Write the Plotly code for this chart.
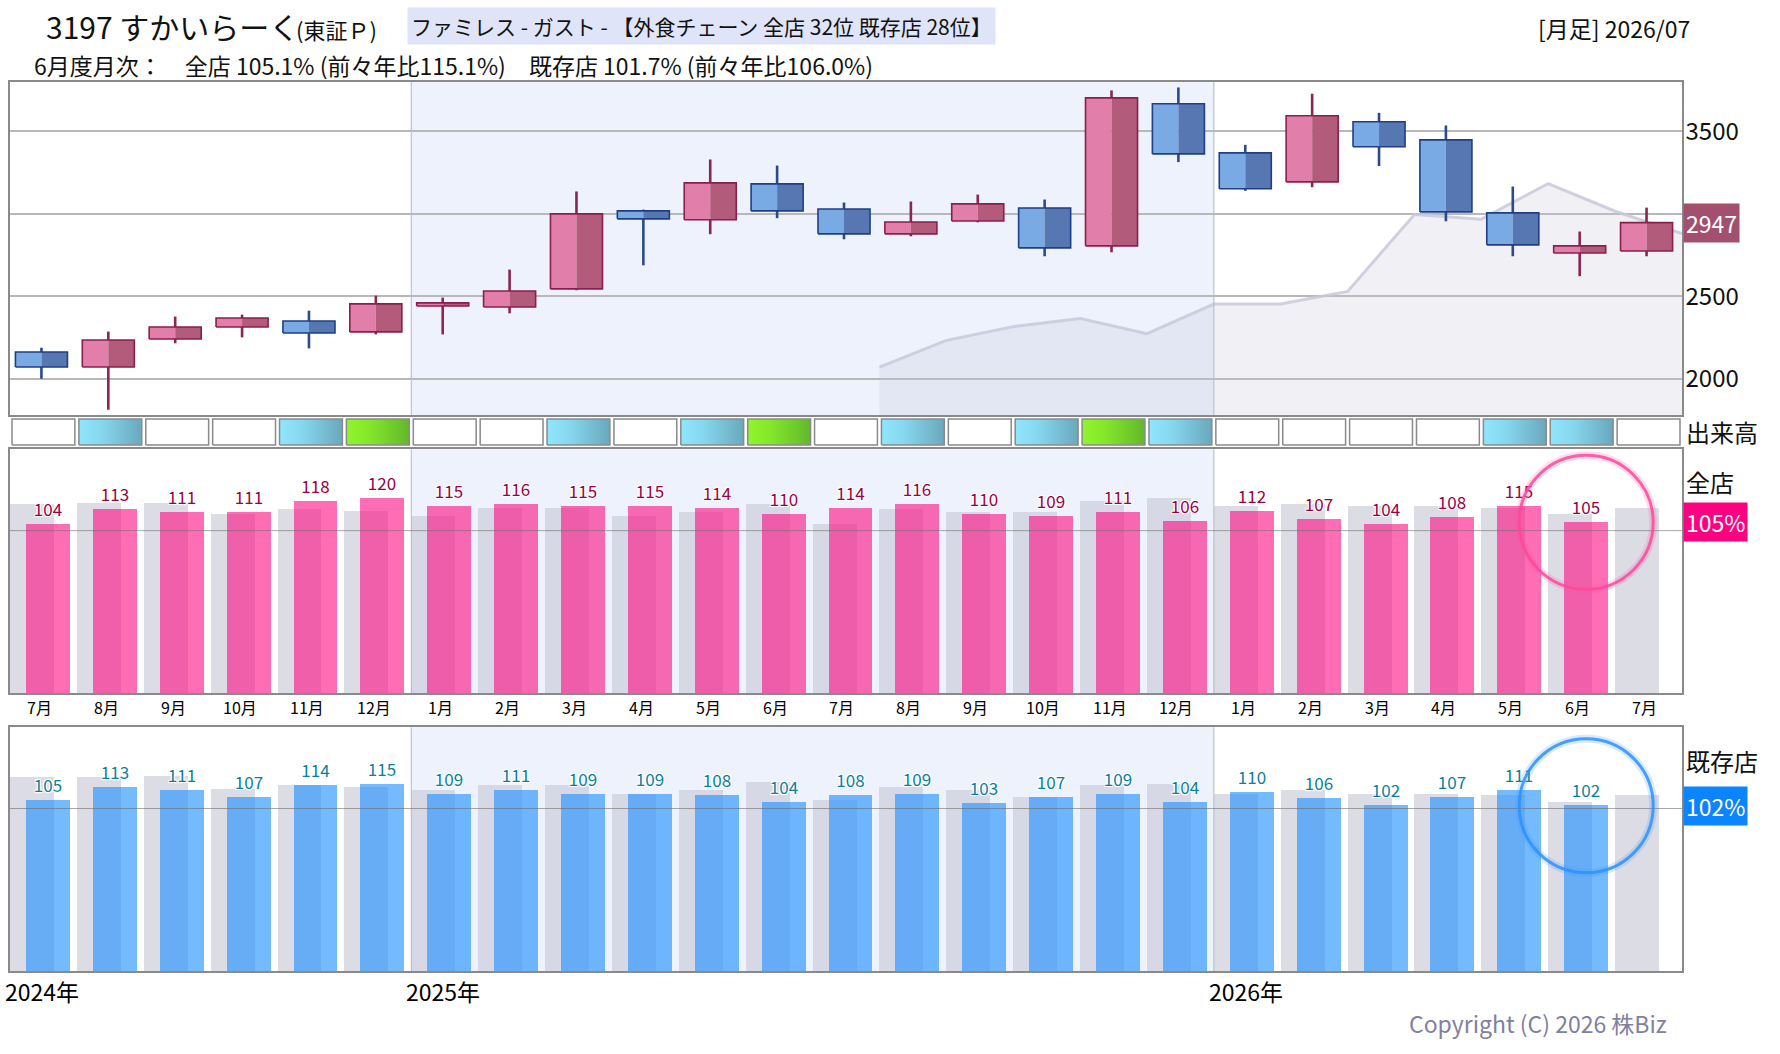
import plotly.graph_objects as go

# ---------------- data ----------------
months = ["7月", "8月", "9月", "10月", "11月", "12月", "1月", "2月", "3月", "4月", "5月", "6月",
          "7月", "8月", "9月", "10月", "11月", "12月", "1月", "2月", "3月", "4月", "5月", "6月", "7月"]
open_p = [2162, 2071, 2241, 2314, 2350, 2284, 2441, 2435, 2545, 3018, 2964, 3182,
          3030, 2879, 2957, 3036, 2806, 3668, 3370, 3194, 3559, 3449, 3006, 2763, 2775]
high_p = [2188, 2286, 2377, 2389, 2413, 2504, 2492, 2662, 3136, 3026, 3330, 3293,
          3069, 3075, 3117, 3087, 3749, 3767, 3419, 3729, 3613, 3536, 3166, 2893, 3038]
low_p = [2000, 1812, 2215, 2251, 2184, 2269, 2269, 2397, 2537, 2688, 2877, 2974,
         2846, 2864, 2949, 2743, 2767, 3314, 3140, 3162, 3290, 2955, 2743, 2622, 2743]
close_p = [2071, 2235, 2314, 2368, 2277, 2454, 2460, 2532, 3000, 2970, 3188, 3018,
           2879, 2951, 3061, 2794, 3704, 3364, 3152, 3595, 3407, 3012, 2812, 2806, 2947]
# gray reference line (plotted at month boundaries, from boundary 13 to 25)
ref_line_start = 13
ref_line = [2071, 2233, 2316, 2366, 2273, 2453, 2453, 2530, 2996, 2968, 3184, 3016, 2881]

# 出来高 strip level per month
vol_level = ["none", "mid", "none", "none", "mid", "high", "none", "none", "mid", "none", "mid", "high",
             "none", "mid", "none", "mid", "high", "mid", "none", "none", "none", "none", "mid", "mid", "none"]

# 全店 / 既存店 (current year vs prior-year same month)
zen = [104, 113, 111, 111, 118, 120, 115, 116, 115, 115, 114, 110,
       114, 116, 110, 109, 111, 106, 112, 107, 104, 108, 115, 105.1, None]
zen_prev = [116, 117, 117, 110, 113, 112, 109, 114, 114, 109, 111, 116,
            104, 113, 111, 111, 118, 120, 115, 116, 115, 115, 114, 110, 114]
kizon = [105, 113, 111, 107, 114, 115, 109, 111, 109, 109, 108, 104,
         108, 109, 103, 107, 109, 104, 110, 106, 102, 107, 111, 101.7, None]
kizon_prev = [119, 119, 120, 112, 114, 113, 111, 114, 114, 109, 111, 116,
              105, 113, 111, 107, 114, 115, 109, 111, 109, 109, 108, 104, 108]

year_labels = ["2024年", "2025年", "2026年"]
year_starts = [0, 6, 18]
shade_start, shade_end = 6, 18

title_main = "3197 すかいらーく"
title_market = "(東証Ｐ)"
title_box = "ファミレス - ガスト - 【外食チェーン 全店 32位 既存店 28位】"
title_right = "[月足] 2026/07"
subtitle = "6月度月次：　全店 105.1% (前々年比115.1%)　既存店 101.7% (前々年比106.0%)"
last_price = 2947
zen_last, kizon_last = 105.1, 101.7
copyright_text = "Copyright (C) 2026 株Biz"

# ---------------- layout helpers ----------------
W, H = 1780, 1054
ML, MR, MT, MB = 8, 98, 82, 83
PW = W - ML - MR
PH = H - MT - MB
FONT = "Noto Sans CJK JP, Noto Sans, sans-serif"


def pxx(x):
    return (x - ML) / PW


def pxy(y):
    return (H - MB - y) / PH


N = len(months)
xs = list(range(N))
fig = go.Figure()

# ---------------- candle panel ----------------
lx = [k - 0.5 for k in range(ref_line_start, ref_line_start + len(ref_line))]
fig.add_trace(go.Scatter(x=lx, y=ref_line, mode="lines", fill="tozeroy",
                         fillcolor="rgba(200,200,215,0.25)",
                         line=dict(color="rgba(200,200,218,0.85)", width=3),
                         xaxis="x", yaxis="y", hoverinfo="skip"))

sh, hw = -0.03, 0.389
groups = {
    True: dict(wx=[], wy=[], lx=[], ly=[], rx=[], ry=[], ox=[], oy=[]),
    False: dict(wx=[], wy=[], lx=[], ly=[], rx=[], ry=[], ox=[], oy=[]),
}
for i in xs:
    o, h, l, c = open_p[i], high_p[i], low_p[i], close_p[i]
    up = c >= o
    g = groups[up]
    top, bot = max(o, c), min(o, c)
    xc = i + sh
    g["wx"] += [xc, xc, None, xc, xc, None]
    g["wy"] += [top, h, None, l, bot, None]
    xl, xr = xc - hw, xc + hw
    g["lx"] += [xl, xc, xc, xl, xl, None]
    g["ly"] += [bot, bot, top, top, bot, None]
    g["rx"] += [xc, xr, xr, xc, xc, None]
    g["ry"] += [bot, bot, top, top, bot, None]
    g["ox"] += [xl, xr, xr, xl, xl, None]
    g["oy"] += [bot, bot, top, top, bot, None]

style = {
    True: dict(wick="#8c2550", left="#e17ea9", right="#b35b7b", edge="#8a1f4b"),
    False: dict(wick="#2a4a8c", left="#7aaae4", right="#5677b2", edge="#1f3f85"),
}
for up in (True, False):
    g, s = groups[up], style[up]
    fig.add_trace(go.Scatter(x=g["wx"], y=g["wy"], mode="lines",
                             line=dict(color=s["wick"], width=2.6), xaxis="x", yaxis="y", hoverinfo="skip"))
    fig.add_trace(go.Scatter(x=g["lx"], y=g["ly"], mode="lines", fill="toself", fillcolor=s["left"],
                             line=dict(width=0, color=s["left"]), xaxis="x", yaxis="y", hoverinfo="skip"))
    fig.add_trace(go.Scatter(x=g["rx"], y=g["ry"], mode="lines", fill="toself", fillcolor=s["right"],
                             line=dict(width=0, color=s["right"]), xaxis="x", yaxis="y", hoverinfo="skip"))
    fig.add_trace(go.Scatter(x=g["ox"], y=g["oy"], mode="lines",
                             line=dict(color=s["edge"], width=1.6), xaxis="x", yaxis="y", hoverinfo="skip"))

# ---------------- 出来高 strip ----------------
vol_colors = {
    "mid": [[0, "#8fe6fc"], [0.35, "#86d8ef"], [1, "#6aa8bd"]],
    "high": [[0, "#90f52c"], [0.35, "#84e82b"], [1, "#62b82a"]],
}
for i in xs:
    x0, x1 = i - 0.47, i + 0.47
    kw = dict(x=[x0, x1, x1, x0, x0], y=[0, 0, 1, 1, 0], mode="lines", fill="toself",
              line=dict(color="#8a8a8a", width=1.5), xaxis="x2", yaxis="y2", hoverinfo="skip")
    if vol_level[i] in vol_colors:
        kw["fillgradient"] = dict(type="horizontal", colorscale=vol_colors[vol_level[i]])
    else:
        kw["fillcolor"] = "white"
    fig.add_trace(go.Scatter(**kw))

# ---------------- bar panels ----------------
shadow = "1px 1px 1px #fff, -1px -1px 1px #fff, 1px -1px 1px #fff, -1px 1px 1px #fff"
bw = 0.657


def lab(v):
    return "" if v is None else str(int(round(v)))


for vals, prev, col, tcol, xa, ya in [
    (zen, zen_prev, "rgba(255,0,123,0.57)", "#9c0042", "x3", "y3"),
    (kizon, kizon_prev, "rgba(30,144,255,0.62)", "#0a7f9e", "x4", "y4"),
]:
    fig.add_trace(go.Bar(x=xs, y=prev, offset=-0.5, width=bw, marker=dict(color="rgba(205,205,218,0.7)", line=dict(width=0)),
                         xaxis=xa, yaxis=ya, hoverinfo="skip"))
    fig.add_trace(go.Bar(x=xs, y=vals, offset=-0.5 + 0.239, width=bw,
                         marker=dict(color=col, line=dict(width=0)),
                         text=[lab(v) for v in vals], textposition="outside", textangle=0,
                         constraintext="none", cliponaxis=False,
                         textfont=dict(color=tcol, size=17, family=FONT, shadow=shadow),
                         xaxis=xa, yaxis=ya, hoverinfo="skip"))

# ---------------- axes ----------------
border = dict(showline=True, mirror=True, linecolor="#8a8a8a", linewidth=1.5)
xbase = dict(range=[-0.5, N - 0.5], showticklabels=False, showgrid=False, zeroline=False, ticks="")
fig.update_layout(
    xaxis=dict(domain=[0, 1], anchor="y", **xbase, **border),
    yaxis=dict(domain=[pxy(415), pxy(82)], side="right", range=[1780, 3800],
               tickvals=[2000, 2500, 3000, 3500], ticktext=["2000", "2500", "", "3500"],
               showgrid=True, gridcolor="#b8b8b8", gridwidth=1.5, zeroline=False, ticks="",
               ticklabelstandoff=-3,
               tickfont=dict(size=24, color="#111", family=FONT), **border),
    xaxis2=dict(domain=[0, 1], anchor="y2", matches="x", **xbase, showline=False),
    yaxis2=dict(domain=[pxy(446), pxy(418)], range=[-0.04, 1.04], visible=False),
    xaxis3=dict(domain=[0, 1], anchor="y3", matches="x", **xbase, **border),
    yaxis3=dict(domain=[pxy(693.3), pxy(449.3)], range=[0, 150], showticklabels=False, showgrid=False,
                zeroline=False, ticks="", **border),
    xaxis4=dict(domain=[0, 1], anchor="y4", matches="x", **xbase, **border),
    yaxis4=dict(domain=[0, pxy(727.3)], range=[0, 150], showticklabels=False, showgrid=False,
                zeroline=False, ticks="", **border),
    barmode="overlay",
    bargap=0,
    width=W, height=H,
    margin=dict(l=ML, r=MR, t=MT, b=MB),
    paper_bgcolor="white", plot_bgcolor="white",
    showlegend=False, hovermode=False,
    font=dict(family=FONT, color="#111"),
)

# ---------------- shapes ----------------
shapes = []
for xa, ya in [("x", "y"), ("x3", "y3"), ("x4", "y4")]:
    shapes.append(dict(type="rect", xref=xa, yref=f"{ya} domain", x0=shade_start - 0.5, x1=shade_end - 0.5,
                       y0=0, y1=1, fillcolor="#edf2fd", line=dict(width=0), layer="below"))
    for b in (shade_start, shade_end):
        shapes.append(dict(type="line", xref=xa, yref=f"{ya} domain", x0=b - 0.5, x1=b - 0.5, y0=0, y1=1,
                           line=dict(color="#b4b8c6", width=1), layer="above"))
for xa, ya in [("x3", "y3"), ("x4", "y4")]:
    shapes.append(dict(type="line", xref=f"{xa} domain", yref=ya, x0=0, x1=1, y0=100, y1=100,
                       line=dict(color="rgba(110,110,110,0.6)", width=1), layer="above"))

cx = 23 - 0.5 + 0.239 + bw / 2
for ya, yv, glow, ring in [("y3", zen_last, "rgba(255,80,160,0.2)", "rgba(255,70,155,0.85)"),
                           ("y4", kizon_last, "rgba(60,150,255,0.2)", "rgba(45,145,255,0.85)")]:
    for wdt, colr in [(8, glow), (3, ring)]:
        shapes.append(dict(type="circle", xref="x3" if ya == "y3" else "x4", yref=ya,
                           xsizemode="pixel", ysizemode="pixel", xanchor=cx, yanchor=yv,
                           x0=-67, x1=67, y0=-67, y1=67, line=dict(color=colr, width=wdt), layer="above"))
fig.update_layout(shapes=shapes)

# ---------------- annotations ----------------
ann = []


def A(text, x, y, size, xanchor="left", color="#111", **kw):
    d = dict(text=text, x=x, y=y, xref="paper", yref="paper", xanchor=xanchor, yanchor="middle",
             showarrow=False, font=dict(size=size, color=color, family=FONT))
    d.update(kw)
    ann.append(d)


A(title_main, pxx(42), pxy(26), 30)
A(title_market, pxx(292), pxy(29), 22)
A(title_box, pxx(405), pxy(26), 21, bgcolor="#dfe4f8", borderpad=3)
A(title_right, pxx(1692), pxy(28), 23, xanchor="right")
A(subtitle, pxx(30), pxy(65), 23)
A(copyright_text, pxx(1669), pxy(1023), 23, xanchor="right", color="#8080a2")
A("出来高", pxx(1684), pxy(432), 24)
A("全店", pxx(1684), pxy(482), 24)
A("既存店", pxx(1684), pxy(760), 24)

for label, yv, yref, bg in [(str(last_price), last_price, "y", "#a3506f"),
                            (f"{int(round(zen_last))}%", zen_last, "y3", "#ff0080"),
                            (f"{int(round(kizon_last))}%", kizon_last, "y4", "#0a84ff")]:
    ann.append(dict(text=label, x=pxx(1683), y=yv, xref="paper", yref=yref, xanchor="left", yanchor="middle",
                    showarrow=False, bgcolor=bg, borderpad=2,
                    font=dict(size=23, color="white", family=FONT)))

for i, m in enumerate(months):
    ann.append(dict(text=m, x=i - 0.06, y=pxy(707), xref="x3", yref="paper", xanchor="center",
                    yanchor="middle", showarrow=False, font=dict(size=16, color="#000", family=FONT)))
for t, k in zip(year_labels, year_starts):
    ann.append(dict(text=t, x=k - 0.5, y=pxy(991), xref="x4", yref="paper", xanchor="left", xshift=-7,
                    yanchor="middle", showarrow=False, font=dict(size=23, color="#000", family=FONT)))

fig.update_layout(annotations=ann)
fig.write_html("out.html")
